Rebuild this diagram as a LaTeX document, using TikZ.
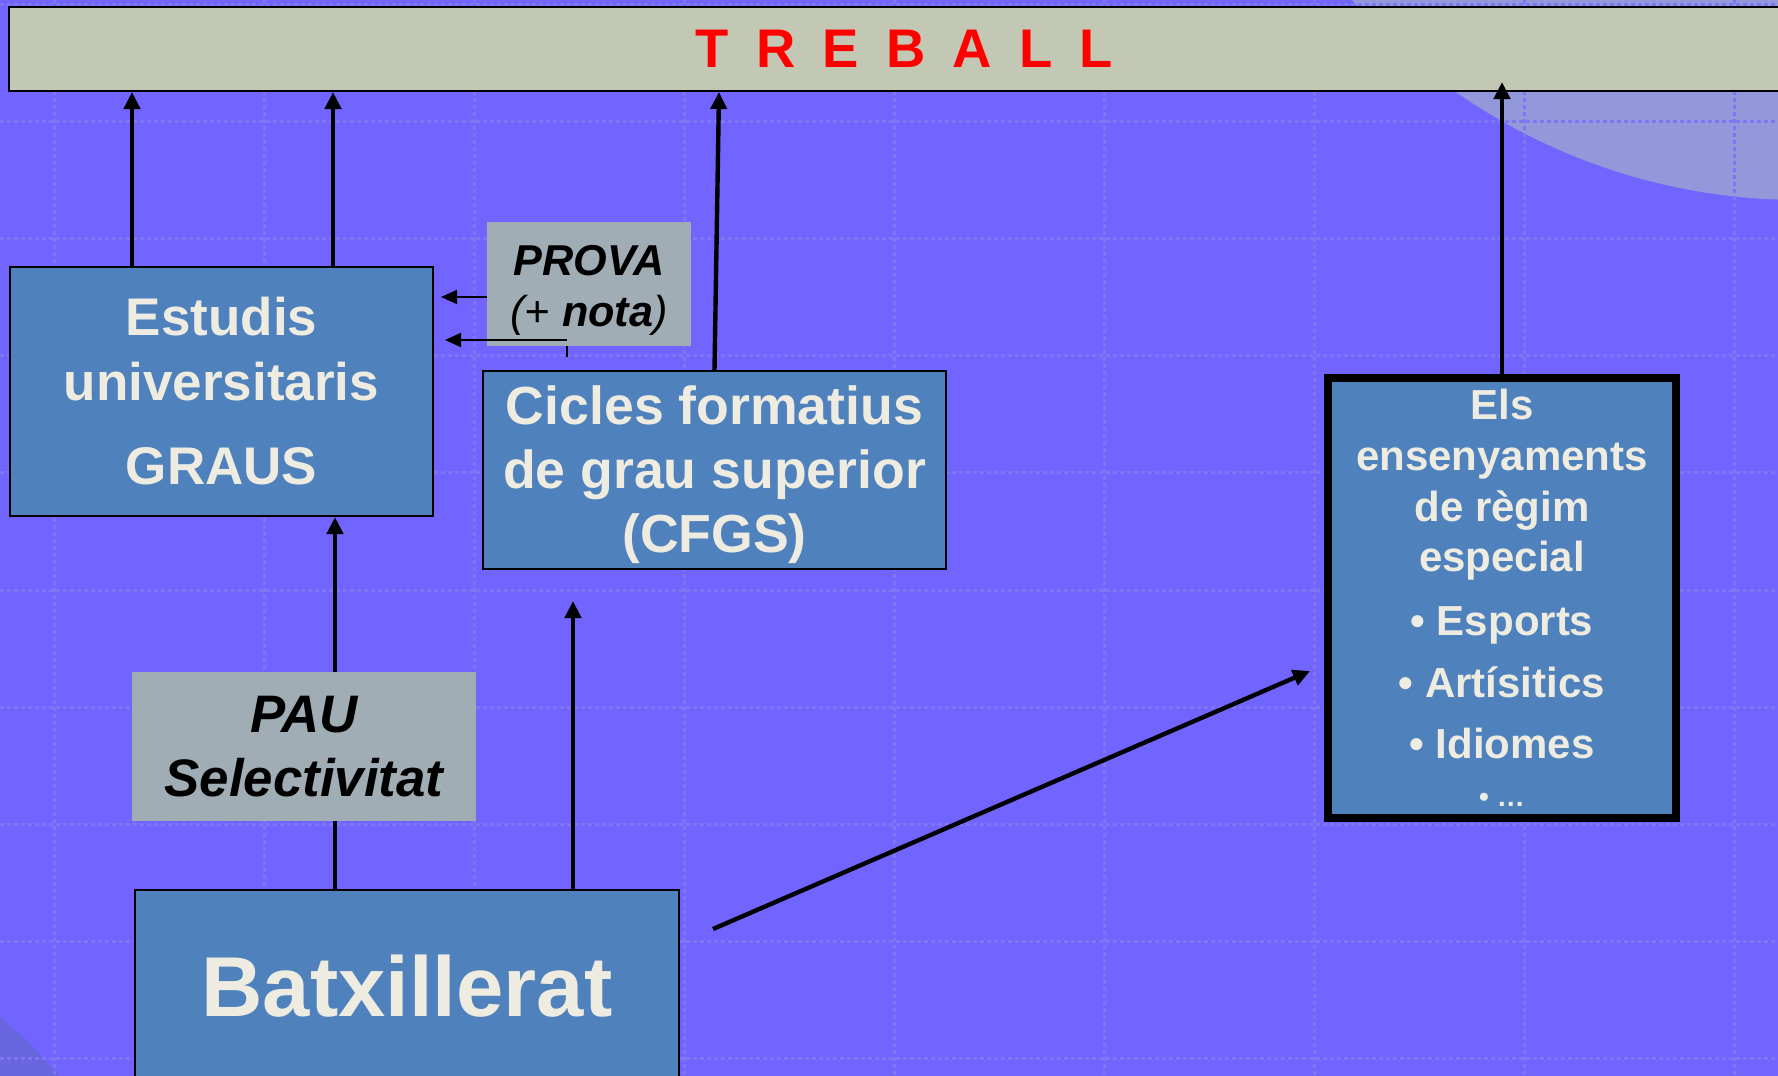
\documentclass[tikz,border=0pt]{standalone}
\usepackage{fontspec}
\setmainfont{Liberation Sans}
\usetikzlibrary{arrows.meta}

\definecolor{fons}{RGB}{114,100,254}
\definecolor{quadri}{RGB}{126,118,242}
\definecolor{cercle}{RGB}{146,152,217}
\definecolor{cercleb}{RGB}{104,102,222}
\definecolor{barra}{RGB}{195,200,180}
\definecolor{blau}{RGB}{79,129,189}
\definecolor{crema}{RGB}{238,236,225}
\definecolor{gris}{RGB}{161,173,180}

\newcommand{\sep}{\hspace{.5em}}

\begin{document}
\begin{tikzpicture}[x=0.5pt, y=-0.5pt,
        caixa/.style={draw=black, line width=1pt, fill=blau, text=crema, align=center, inner sep=0pt},
        prova/.style={fill=gris, text=black, align=center, inner sep=0pt, font=\bfseries\itshape},
        fletxa/.style={-{Triangle[length=8.5pt,width=8pt]}, line width=2.2pt},
        fletxap/.style={-{Triangle[length=8pt,width=7pt]}, line width=1pt},
        quadricula/.style={quadri, line width=1.5pt, dash pattern=on 1.75pt off 1.75pt}]
        \clip (0, 0) rectangle (1778, 1076);
        \fill[fons] (0, 0) rectangle (1778, 1076);
        \fill[cercle] (1800, -402) circle (602);
        \fill[cercleb] (-340, 1417) circle (525);
        \foreach \x in {0,...,8}
            \draw[quadricula] (54+210*\x, 0) -- (54+210*\x, 1076);
        \foreach \y in {0,...,9}
            \draw[quadricula] (0, 4+117.2*\y) -- (1778, 4+117.2*\y);

        \node[draw=black, line width=1pt, fill=barra, text=red, minimum width=895.5pt, minimum height=42pt, inner sep=0pt,
            font=\bfseries\fontsize{27.2}{30}\selectfont] at (904.5, 49)(treball){T\sep R\sep E\sep B\sep A\sep L\sep L};
        \node[caixa, minimum width=211.5pt, minimum height=124.5pt, font=\bfseries\fontsize{26.5}{32.5}\selectfont]
            at (221.5, 391.5)(estudis){Estudis\\universitaris\\[9.5pt]GRAUS};
        \node[caixa, minimum width=231.5pt, minimum height=99pt, font=\bfseries\fontsize{26.8}{32}\selectfont]
            at (714.5, 470)(cicles){\rule{0pt}{24pt}Cicles formatius\\de grau superior\\(CFGS)};
        \node[caixa, minimum width=272pt, minimum height=96pt, font=\bfseries\fontsize{42.5}{48}\selectfont]
            at (407, 986)(batx){Batxillerat};
        \node[caixa, line width=4pt, minimum width=173.75pt, minimum height=219.75pt, font=\bfseries\fontsize{21}{25.4}\selectfont]
            at (1502, 598)(els){Els\\ensenyaments\\de règim\\especial\\[6.6pt]• Esports\\[5.35pt]• Artísitics\\[5.35pt]• Idiomes\\[-1.4pt]{\fontsize{14}{16}\selectfont • …}};

        \coordinate (c1) at (132, 0);
        \coordinate (c2) at (333, 0);
        \coordinate (c3) at (335, 0);
        \coordinate (c4) at (719, 0);
        \coordinate (cap1) at (573, 601);
        \coordinate (cap2) at (1502, 82);
        \coordinate (d1) at (713, 929);
        \coordinate (d2) at (1310, 671);

        \path[fletxa]
        (estudis.north -| c1)edge(treball.south -| c1)
        (estudis.north -| c2)edge(treball.south -| c2)
        (cicles.north)edge(treball.south -| c4)
        (els)edge(cap2)
        (batx.north -| c3)edge(estudis.south -| c3)
        (batx.north -| cap1)edge(cap1)
        (d1)edge(d2)
        ;

        \node[prova, minimum width=172pt, minimum height=74.5pt, font=\bfseries\itshape\fontsize{26.4}{32}\selectfont]
            at (304, 746.5)(pau){PAU\\Selectivitat};
        \node[prova, minimum width=102pt, minimum height=62pt, font=\bfseries\itshape\fontsize{21.6}{25.5}\selectfont]
            at (589, 284)(prova){\rule{0pt}{21.5pt}PROVA\\{\mdseries(+ }nota{\mdseries)}};

        \coordinate (p1) at (441, 297);
        \coordinate (p2) at (445, 340);
        \coordinate (p3) at (567, 357);
        \path[fletxap] (prova.west |- p1)edge(p1);
        \draw[line width=1pt] (p3) -- (p3 |- prova.south);
        \path[fletxap] (p3 |- p2)edge(p2);
    \end{tikzpicture}
\end{document}
